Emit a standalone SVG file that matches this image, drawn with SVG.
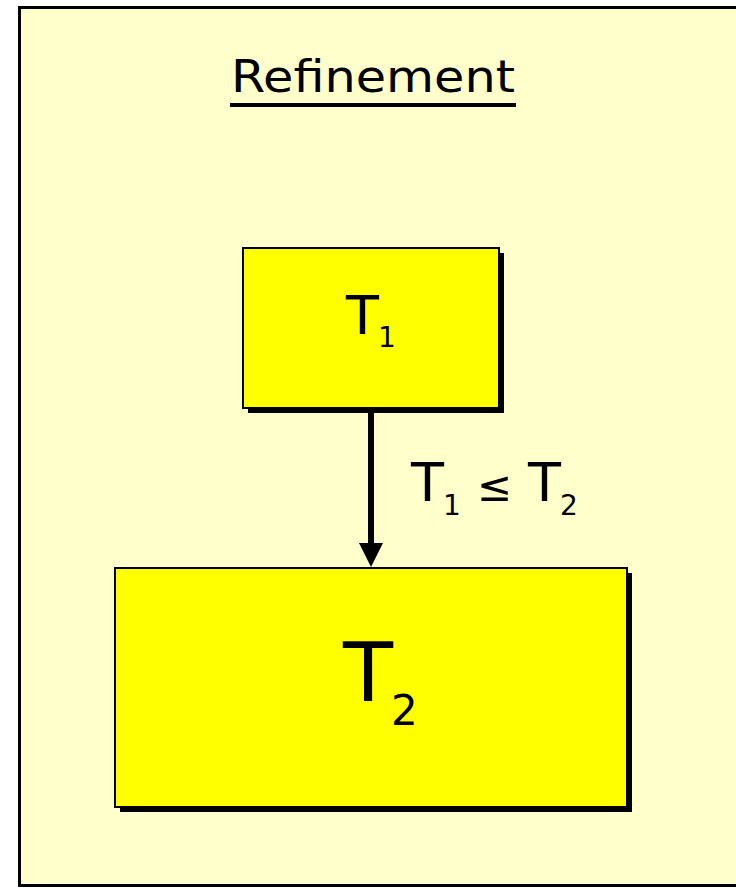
<svg xmlns="http://www.w3.org/2000/svg" width="736" height="888" viewBox="0 0 736 888">
  <style>
    .frame { fill: #ffffcc; stroke: #000; stroke-width: 3; }
    .shadow { fill: #000; }
    .box { fill: #ffff00; stroke: #000; stroke-width: 2; }
    .lbl { font-family: "Comic Sans MS", "DejaVu Sans", sans-serif; fill: #000; }
    .edge { stroke: #000; stroke-width: 6; fill: none; }
    .head { fill: #000; }
  </style>

  <rect width="736" height="888" fill="#ffffff"/>
  <rect class="frame" x="19.5" y="7.5" width="730" height="878"/>

  <g id="title">
    <text class="lbl" x="231" y="92" font-size="45" textLength="284" lengthAdjust="spacingAndGlyphs">Refinement</text>
    <rect x="230" y="103" width="286" height="4" fill="#000"/>
  </g>

  <g id="node-t1">
    <rect class="shadow" x="248" y="253" width="256" height="160"/>
    <rect class="box" x="243" y="248" width="256" height="160"/>
    <text class="lbl" x="346" y="334" font-size="54">T<tspan font-size="28" dx="-1" dy="13">1</tspan></text>
  </g>

  <g id="node-t2">
    <rect class="shadow" x="120" y="573" width="512" height="239"/>
    <rect class="box" x="115" y="568" width="512" height="239"/>
    <text class="lbl" x="343" y="701" font-size="82">T<tspan font-size="42" dx="-2" dy="24">2</tspan></text>
  </g>

  <g id="connectors">
    <line class="edge" x1="371" y1="409" x2="371" y2="545"/>
    <path class="head" d="M359,543 L383,543 L371,567 Z"/>
    <text class="lbl" x="411" y="501" font-size="54">T<tspan font-size="28" dx="-1" dy="14">1</tspan><tspan dx="16" dy="-14" font-size="42">≤</tspan><tspan dx="16">T</tspan><tspan font-size="28" dx="-1" dy="14">2</tspan></text>
  </g>
</svg>
